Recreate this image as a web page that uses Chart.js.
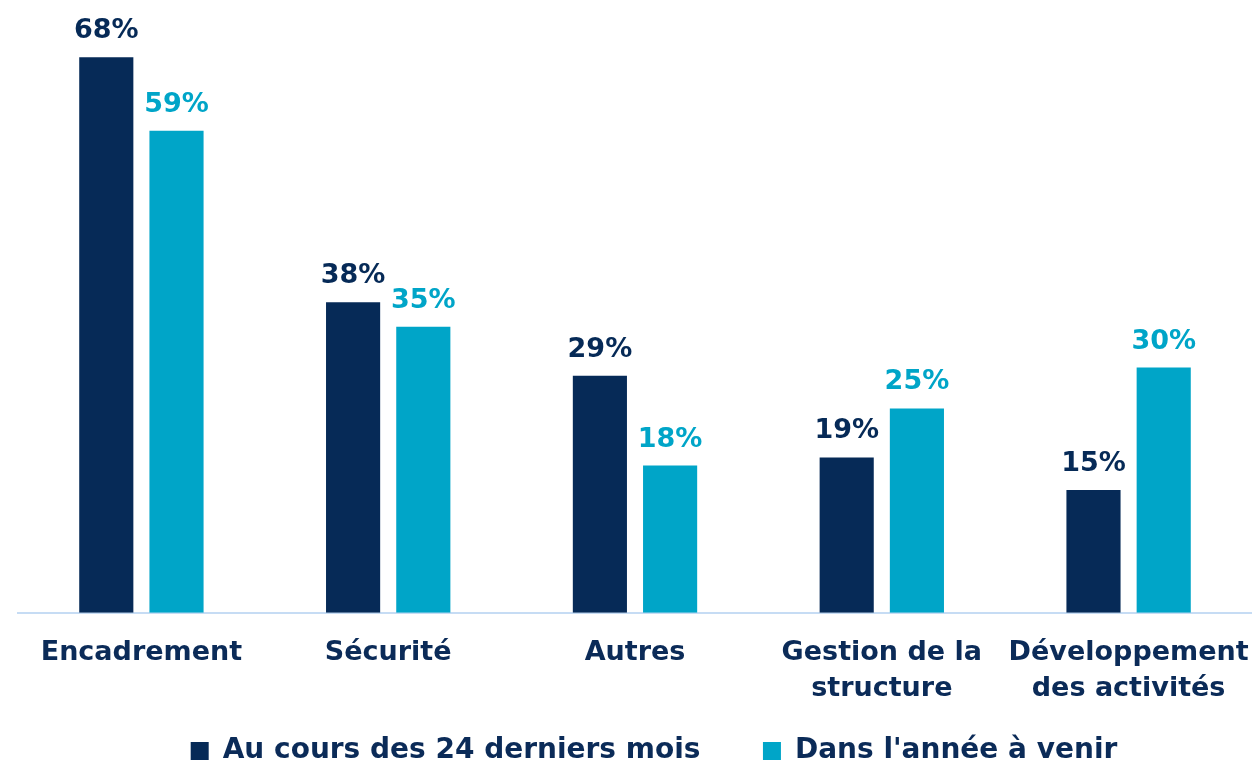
<!DOCTYPE html>
<html>
<head>
<meta charset="utf-8">
<script src="https://cdn.jsdelivr.net/npm/chart.js@4.4.1/dist/chart.umd.min.js"></script>
<style>
html,body{margin:0;padding:0;background:#ffffff;}
#wrap{width:1252px;height:766px;position:relative;}
</style>
</head>
<body>
<div id="wrap"><canvas id="c" width="1252" height="766"></canvas></div>
<script>
const categories = [["Encadrement"], ["Sécurité"], ["Autres"], ["Gestion de la", "structure"], ["Développement", "des activités"]];
const seriesNames = ["Au cours des 24 derniers mois", "Dans l'année à venir"];
const past24Months = [68, 38, 29, 19, 15];
const nextYear = [59, 35, 18, 25, 30];
const colors = ["#062a57", "#00a5c8"];
const FONT = "'DejaVu Sans', sans-serif";

const valueLabels = {
  id: 'valueLabels',
  afterDatasetsDraw(chart) {
    const ctx = chart.ctx;
    ctx.save();
    ctx.font = "700 27px " + FONT;
    ctx.textAlign = 'center';
    ctx.textBaseline = 'alphabetic';
    chart.data.datasets.forEach((ds, i) => {
      const meta = chart.getDatasetMeta(i);
      meta.data.forEach((bar, j) => {
        ctx.fillStyle = ds.backgroundColor;
        ctx.fillText(ds.data[j] + '%', bar.x, bar.y - 19);
      });
    });
    ctx.restore();
  }
};

const legendShift = {
  id: 'legendShift',
  afterLayout(chart) {
    if (chart.legend) { chart.legend.left += 38; }
  }
};

new Chart(document.getElementById('c'), {
  type: 'bar',
  data: {
    labels: categories,
    datasets: [
      { label: seriesNames[0], data: past24Months, backgroundColor: colors[0] },
      { label: seriesNames[1], data: nextYear, backgroundColor: colors[1] }
    ]
  },
  options: {
    responsive: false,
    animation: false,
    devicePixelRatio: 1,
    categoryPercentage: 0.569,
    barPercentage: 0.771,
    layout: { padding: { left: 18, right: 0, top: 0, bottom: -9 } },
    scales: {
      x: {
        grid: { display: false, drawTicks: true, tickLength: 20 },
        border: { color: '#c6dcf4', width: 2 },
        ticks: { color: '#0b2b58', font: { family: FONT, weight: '700', size: 27, lineHeight: 1.34 }, padding: 2, maxRotation: 0, autoSkip: false },
        afterFit: (axis) => { axis.height += 24; }
      },
      y: { display: false, min: 0, max: 75 }
    },
    plugins: {
      legend: {
        position: 'bottom',
        labels: {
          color: '#0b2b58',
          font: { family: FONT, weight: '700', size: 28, lineHeight: 1.0 },
          boxWidth: 18, boxHeight: 18, padding: 4,
          generateLabels: (chart) => {
            const items = Chart.defaults.plugins.legend.labels.generateLabels(chart);
            items.forEach((it, i) => {
              it.lineWidth = 0;
              if (i < items.length - 1) it.text = it.text + '      ';
            });
            return items;
          }
        }
      },
      tooltip: { enabled: false }
    }
  },
  plugins: [valueLabels, legendShift]
});
</script>
</body>
</html>
